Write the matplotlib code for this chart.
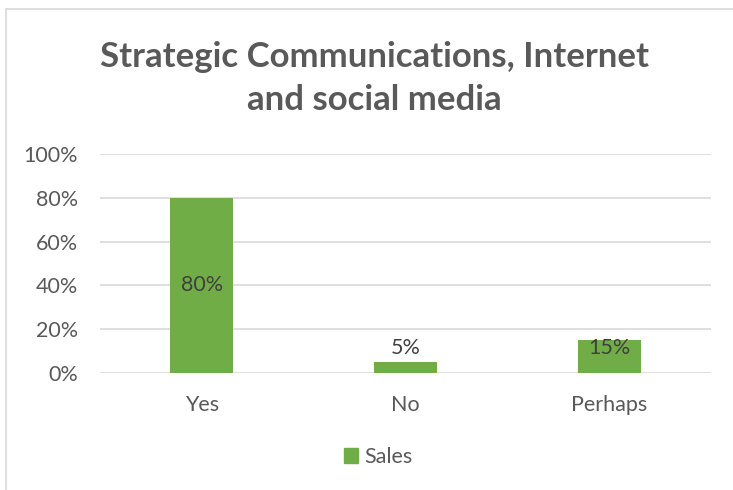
import matplotlib.pyplot as plt
from matplotlib.patches import Rectangle, Patch

categories = ['Yes', 'No', 'Perhaps']
sales = [0.80, 0.05, 0.15]
yticks = [0, 0.2, 0.4, 0.6, 0.8, 1.0]

green = '#70AD47'
grey = '#595959'
gridc = '#D9D9D9'

plt.rcParams['font.family'] = ['Lato', 'DejaVu Sans']

fig = plt.figure(figsize=(7.33, 4.90), dpi=100)

# chart border (only top and left visible in the reference)
fig.patches.append(Rectangle((6/733, -0.05), 1.2, 1 - 9/490 + 0.05, transform=fig.transFigure,
                             fill=False, edgecolor=gridc, lw=1.2))

ax = fig.add_axes([100/733, 117/490, 611/733, 219/490])
x = range(len(categories))
ax.bar(x, sales, width=0.31, color=green, zorder=2)
ax.set_xlim(-0.5, 2.5)
ax.set_ylim(0, 1.0)
ax.set_yticks(yticks)
ax.set_yticklabels(['{:.0f}%'.format(v*100) for v in yticks])
ax.set_xticks(list(x))
ax.set_xticklabels(categories)
ax.tick_params(length=0, labelsize=15.5, labelcolor=grey)
ax.tick_params(axis='y', pad=16)
ax.tick_params(axis='x', pad=16)
ax.grid(axis='y', color=gridc, lw=1.2, zorder=0)
for s in ax.spines.values():
    s.set_visible(False)

for i, v in enumerate(sales):
    ax.text(i, max(v/2, 0.115), '{:.0f}%'.format(v*100), ha='center', va='center',
            fontsize=15.5, color='#404040', zorder=3)

fig.text(374/733, 1 - 67/490, 'Strategic Communications, Internet', ha='center', va='baseline',
         fontsize=25, fontweight='bold', color=grey)
fig.text(374/733, 1 - 110/490, 'and social media', ha='center', va='baseline',
         fontsize=25, fontweight='bold', color=grey)

fig.legend(handles=[Patch(color=green, label='Sales')], loc='center', bbox_to_anchor=(378/733, 1 - 457/490),
           frameon=False, fontsize=15.5, handlelength=0.65, handleheight=0.65, handletextpad=0.3,
           labelcolor=grey)

fig.savefig('out.png', dpi=100)
